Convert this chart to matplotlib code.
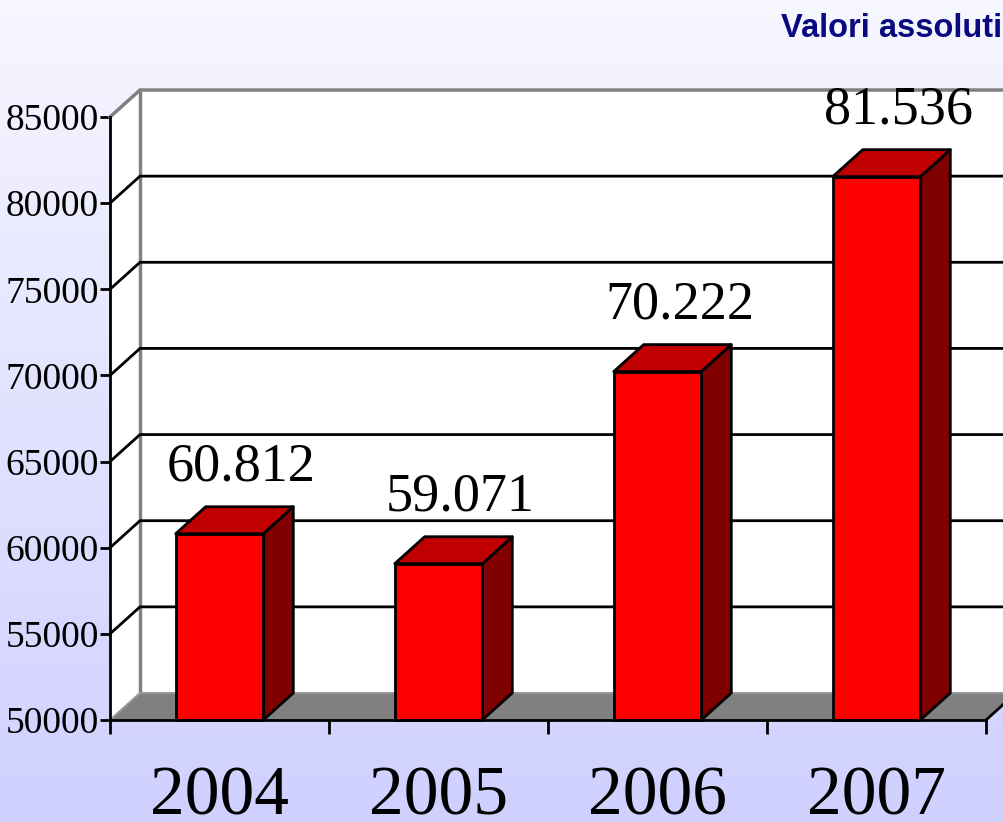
import matplotlib
matplotlib.use("Agg")
import matplotlib.pyplot as plt
import numpy as np
from matplotlib.patches import Polygon, Rectangle
from matplotlib.colors import LinearSegmentedColormap

years = ["2004", "2005", "2006", "2007"]
values = [60812, 59071, 70222, 81536]
y_ticks = [50000, 55000, 60000, 65000, 70000, 75000, 80000, 85000]
title = "Valori assoluti"

SERIF = ["Liberation Serif", "DejaVu Serif"]
W, H = 1004, 822

fig = plt.figure(figsize=(W / 100, H / 100), dpi=100)

# background gradient
bg = fig.add_axes([0, 0, 1, 1])
bg.set_axis_off()
cmap = LinearSegmentedColormap.from_list("bg", ["#F7F7FF", "#E2E2FF", "#D0D0FF"])
bg.imshow(np.linspace(0, 1, 256).reshape(-1, 1), aspect="auto", cmap=cmap,
          extent=[0, 1, 0, 1], origin="upper")
bg.set_xlim(0, 1)
bg.set_ylim(0, 1)

# front plot region in pixels
x0, x1 = 110, 986
y_bot, y_top = 720, 117
ax = fig.add_axes([x0 / W, (H - y_bot) / H, (x1 - x0) / W, (y_bot - y_top) / H])
ax.set_xlim(0, 4)
ax.set_ylim(50000, 85000)
ax.patch.set_visible(False)

px_x = 4 / (x1 - x0)
px_y = 35000 / (y_bot - y_top)
dx = 30 * px_x
dy = 27 * px_y

# left wall
ax.add_patch(Polygon([(0, 50000), (dx, 50000 + dy), (dx, 85000 + dy), (0, 85000)],
                     closed=True, facecolor="white", edgecolor="none",
                     clip_on=False, zorder=1))
# back wall
ax.add_patch(Rectangle((dx, 50000 + dy), 4.3, 35000, facecolor="white",
                       edgecolor="none", clip_on=False, zorder=1))
ax.plot([0, dx, 4.3], [85000, 85000 + dy, 85000 + dy], color="#808080", lw=2.5,
        clip_on=False, zorder=2)
ax.plot([dx, dx], [50000 + dy, 85000 + dy], color="#808080", lw=2.5,
        clip_on=False, zorder=2)

for v in y_ticks[1:-1]:
    ax.plot([0, dx, 4.3], [v, v + dy, v + dy], color="black", lw=2,
            clip_on=False, zorder=2)

# floor
ax.add_patch(Polygon([(0, 50000), (4, 50000), (4 + dx, 50000 + dy), (dx, 50000 + dy)],
                     closed=True, facecolor="#808080", edgecolor="none",
                     clip_on=False, zorder=3))
ax.plot([0, dx, 4 + dx], [50000, 50000 + dy, 50000 + dy], color="#999999", lw=1.5,
        clip_on=False, zorder=3)
ax.plot([4, 4 + dx], [50000, 50000 + dy], color="black", lw=2,
        clip_on=False, zorder=3)

# bars
hw = 0.2
for i, v in enumerate(values):
    c = i + 0.5
    ax.add_patch(Polygon([(c + hw, 50000), (c + hw + dx, 50000 + dy),
                          (c + hw + dx, v + dy), (c + hw, v)], closed=True,
                         facecolor="#800000", edgecolor="black", lw=2,
                         joinstyle="round", clip_on=False, zorder=4))
    ax.add_patch(Polygon([(c - hw, v), (c + hw, v), (c + hw + dx, v + dy),
                          (c - hw + dx, v + dy)], closed=True,
                         facecolor="#C00000", edgecolor="black", lw=2,
                         joinstyle="round", clip_on=False, zorder=4))
    ax.add_patch(Rectangle((c - hw, 50000), 2 * hw, v - 50000,
                           facecolor="#FF0000", edgecolor="black", lw=2,
                           joinstyle="round", clip_on=False, zorder=5))
    label = f"{v:,}".replace(",", ".")
    ax.annotate(label, (c + 0.1, v + dy), xytext=(0, 19), textcoords="offset points",
                ha="center", va="baseline", fontsize=39, family=SERIF,
                color="black", zorder=6)

# axes lines and ticks
for s in ["top", "right"]:
    ax.spines[s].set_visible(False)
for s in ["left", "bottom"]:
    ax.spines[s].set_linewidth(2)
    ax.spines[s].set_zorder(7)

ax.set_yticks(y_ticks)
ax.set_yticklabels([str(t) for t in y_ticks], family=SERIF, fontsize=27)
ax.tick_params(axis="y", length=7, width=2, pad=1)

ax.set_xticks([i + 0.5 for i in range(len(years))])
ax.set_xticklabels(years, family=SERIF, fontsize=50)
ax.set_xticks(range(len(years) + 1), minor=True)
ax.tick_params(axis="x", which="major", length=0, pad=33)
ax.tick_params(axis="x", which="minor", length=10, width=2)

fig.text(1002 / W, 1 - 37 / H, title, ha="right", va="baseline",
         fontsize=23.5, fontweight="bold", color="#0A0A80",
         family=["Liberation Sans", "DejaVu Sans"])

fig.savefig("out.png", dpi=100)
